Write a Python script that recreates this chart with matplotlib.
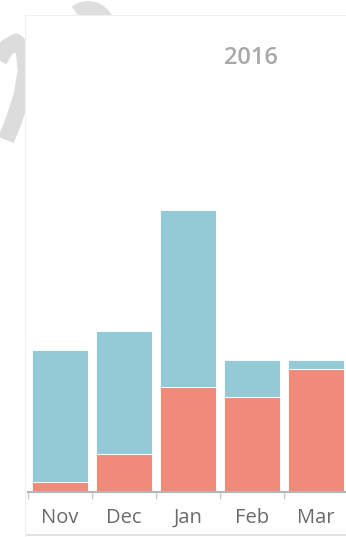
import matplotlib.pyplot as plt
import matplotlib.patches as mpatches
from matplotlib.lines import Line2D
import numpy as np

# 2016 monthly stacked bars
months = ['Nov', 'Dec', 'Jan', 'Feb', 'Mar']
red_vals = [10, 38, 105, 95, 123]
blue_vals = [132, 123, 177, 37, 9]
title = '2016'

RED = '#f28a7c'
BLUE = '#92cad6'

W, H = 346, 537
fig = plt.figure(figsize=(W / 100, H / 100), dpi=100)

# 背景水印（浅灰笔画），被白色面板遮住一部分
wx = np.array([-2, 6, 16, 24, 26, 22, 14, 6])
wy = np.array([62, 48, 42, 50, 70, 95, 120, 140])
fig.add_artist(Line2D(wx / W, 1 - wy / H, transform=fig.transFigure, color='#dcdcdc',
                      lw=12, solid_capstyle='butt', solid_joinstyle='round', zorder=-3))
arc2 = mpatches.Arc((88 / W, 1 - 28 / H), 40 / W, 40 / H, theta1=-20, theta2=140,
                    transform=fig.transFigure, color='#dedede', lw=10, zorder=-3)
fig.add_artist(arc2)
panel = mpatches.Rectangle((25 / W, -0.5), 2, 1.5 - 15 / H, transform=fig.transFigure,
                           facecolor='white', edgecolor='#f0f0f0', lw=0.8, zorder=-2)
fig.add_artist(panel)
# 面板底部阴影
fig.add_artist(Line2D([27 / W, 1], [1 - 535 / H] * 2, transform=fig.transFigure,
                      color='#dddddd', lw=1.2, zorder=-1))

ax = fig.add_axes([28 / W, 1 - 492 / H, 1 - 28 / W, (492 - 15) / H])
ax.patch.set_alpha(0)

x = np.arange(len(months))
ax.bar(x, red_vals, width=0.875, color=RED, edgecolor='white', linewidth=0.6)
ax.bar(x, blue_vals, width=0.875, bottom=red_vals, color=BLUE,
       edgecolor='white', linewidth=0.6)

ax.set_xlim(-0.5, 4.47)
ax.set_ylim(0, 477)

# 轴线和刻度
for s in ['top', 'right', 'left']:
    ax.spines[s].set_visible(False)
ax.spines['bottom'].set_color('#b5b5b5')
ax.spines['bottom'].set_linewidth(1.5)
ax.set_yticks([])
ax.set_xticks(x - 0.5)
ax.set_xticklabels([])
ax.tick_params(axis='x', length=5, width=1, color='#cccccc')
for i, m in enumerate(months):
    ax.text(i, -26, m, ha='center', va='center', fontsize=14.5,
            family='Open Sans', color='#6a6a6a')

fig.text(251 / W, 1 - 58.5 / H, title, ha='center', va='center',
         fontsize=17, fontweight='semibold', family='Open Sans', color='#a8a8a8')

fig.savefig('out.png', dpi=100)
